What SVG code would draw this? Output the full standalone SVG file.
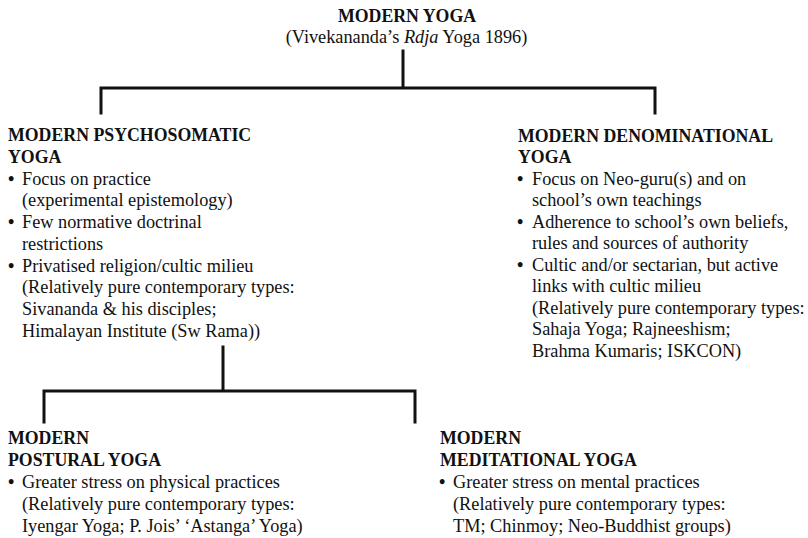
<svg xmlns="http://www.w3.org/2000/svg" width="808" height="538" viewBox="0 0 808 538">
<style>
text{font-family:"Liberation Serif","Times New Roman",serif;fill:#111;font-size:18.3px}
.h{font-weight:bold;font-size:17.8px}
.b{font-size:18px;font-weight:bold}
.c{stroke:#111;stroke-width:3;fill:none;stroke-linecap:square}
</style>
<rect width="808" height="538" fill="#fff"/>
<g id="connectors">
<path class="c" d="M403 51V88M101 113V88H655V113"/>
<path class="c" d="M223 347V391M44 422V391H415V422"/>
</g>
<g id="root">
<text class="h" x="407" y="21.5" text-anchor="middle">MODERN YOGA</text>
<text x="406.5" y="43" text-anchor="middle">(Vivekananda’s <tspan font-style="italic">Rdja</tspan> Yoga 1896)</text>
</g>
<g id="psychosomatic">
<text class="h" x="8" y="141">MODERN PSYCHOSOMATIC</text>
<text class="h" x="8" y="163">YOGA</text>
<text class="b" x="8" y="185">•</text><text x="22" y="185">Focus on practice</text>
<text x="22" y="206">(experimental epistemology)</text>
<text class="b" x="8" y="228">•</text><text x="22" y="228">Few normative doctrinal</text>
<text x="22" y="250">restrictions</text>
<text class="b" x="8" y="272">•</text><text x="22" y="272">Privatised religion/cultic milieu</text>
<text x="22" y="293">(Relatively pure contemporary types:</text>
<text x="22" y="315">Sivananda &amp; his disciples;</text>
<text x="22" y="337">Himalayan Institute (Sw Rama))</text>
</g>
<g id="denominational">
<text class="h" x="518" y="142">MODERN DENOMINATIONAL</text>
<text class="h" x="518" y="163">YOGA</text>
<text class="b" x="517" y="185">•</text><text x="532" y="185">Focus on Neo-guru(s) and on</text>
<text x="532" y="206">school’s own teachings</text>
<text class="b" x="517" y="228">•</text><text x="532" y="228">Adherence to school’s own beliefs,</text>
<text x="532" y="249">rules and sources of authority</text>
<text class="b" x="517" y="271">•</text><text x="532" y="271">Cultic and/or sectarian, but active</text>
<text x="532" y="292">links with cultic milieu</text>
<text x="532" y="314">(Relatively pure contemporary types:</text>
<text x="532" y="335">Sahaja Yoga; Rajneeshism;</text>
<text x="532" y="357">Brahma Kumaris; ISKCON)</text>
</g>
<g id="postural">
<text class="h" x="8" y="444">MODERN</text>
<text class="h" x="8" y="466">POSTURAL YOGA</text>
<text class="b" x="8" y="488">•</text><text x="22" y="488">Greater stress on physical practices</text>
<text x="22" y="510">(Relatively pure contemporary types:</text>
<text x="22" y="532">Iyengar Yoga; P. Jois’ ‘Astanga’ Yoga)</text>
</g>
<g id="meditational">
<text class="h" x="440" y="444">MODERN</text>
<text class="h" x="440" y="466">MEDITATIONAL YOGA</text>
<text class="b" x="439" y="488">•</text><text x="453" y="488">Greater stress on mental practices</text>
<text x="453" y="510">(Relatively pure contemporary types:</text>
<text x="453" y="532">TM; Chinmoy; Neo-Buddhist groups)</text>
</g>
</svg>
